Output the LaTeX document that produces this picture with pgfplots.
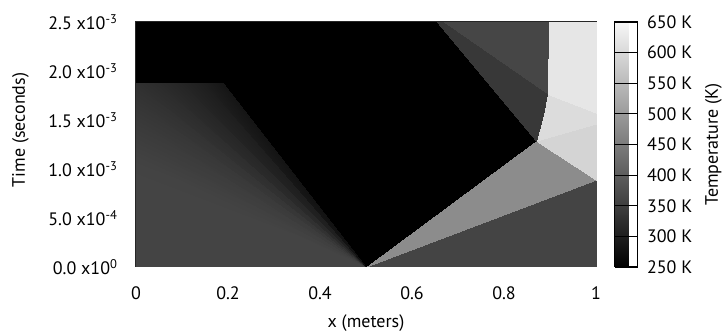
\documentclass[border=0pt]{standalone}
\usepackage{fontspec}
\setmainfont{PT Sans}
\usepackage{pgfplots}
\pgfplotsset{compat=1.18}
\newcommand{\bigf}{\fontsize{18}{21}\selectfont}
\begin{document}
\begin{tikzpicture}
\path[use as bounding box] (-136pt,-64pt) rectangle (591pt,267pt);
\begin{axis}[
  scale only axis, width=460pt, height=245pt,
  at={(0,0)}, anchor=south west,
  xmin=0, xmax=1, ymin=0, ymax=0.0025,
  scaled y ticks=false, scaled x ticks=false,
  tick label style={font=\bigf},
  label style={font=\bigf},
  /pgf/number format/assume math mode=true,
  tick align=inside, major tick length=16pt,
  tick style={black, line width=1pt},
  axis line style={black!85, line width=1pt},
  xtick={0,0.2,0.4,0.6,0.8,1},
  xticklabels={0,0.2,0.4,0.6,0.8,1},
  ytick={0,0.0005,0.001,0.0015,0.002,0.0025},
  yticklabels={0.0 x10\textsuperscript{0},5.0 x10\textsuperscript{-4},1.0 x10\textsuperscript{-3},1.5 x10\textsuperscript{-3},2.0 x10\textsuperscript{-3},2.5 x10\textsuperscript{-3}},
  xticklabel style={yshift=-16pt},
  yticklabel style={xshift=-15pt},
  xlabel={x (meters)},
  ylabel={Time (seconds)},
  xlabel style={at={(axis description cs:0.5,0)}, anchor=base, yshift=-60pt},
  ylabel style={at={(axis description cs:-0.2413,0.559)}, anchor=base},
  colormap={bw}{gray(0cm)=(0); gray(1cm)=(0.97)},
  point meta min=250, point meta max=650,
  colorbar,
  colorbar style={
    at={(parent axis.north east)}, anchor=north west, xshift=10pt,
    width=23pt,
    tick label style={font=\bigf},
    label style={font=\bigf},
    ytick={250,300,350,400,450,500,550,600,650},
    yticklabels={250 K,300 K,350 K,400 K,450 K,500 K,550 K,600 K,650 K},
    major tick length=0pt,
    ymajorgrids, major grid style={black, line width=1.2pt},
    yticklabel style={xshift=6pt},
    ylabel={Temperature (K)},
    ylabel style={at={(axis description cs:4.3,0.5)}, anchor=center, inner sep=0pt},
    axis line style={black, line width=1pt},
  },
]
\addplot[patch, patch type=triangle, shader=interp, point meta=explicit] table[meta=c] {
x y c
0 0 250
1 0 250
1 0.0025 250
0 0 250
1 0.0025 250
0 0.0025 250
0 0 360
0.5 0 360
0 0.0009 360
0.5 0 360
0 0.0009 360
0 0.0011 357
0.5 0 358
0 0.0011 357
0 0.0013 350
0.5 0 355
0 0.0013 350
0 0.0015 343
0.5 0 350
0 0.0015 343
0 0.0017 335
0.5 0 342
0 0.0017 335
0 0.00188 328
0.5 0 331
0 0.00188 328
0.05 0.00188 320
0.5 0 317
0.05 0.00188 320
0.1 0.00188 310
0.5 0 300
0.1 0.00188 310
0.15 0.00188 298
0.5 0 277
0.15 0.00188 298
0.19 0.00188 285
0.5 0 360
1 0 360
1 0.000888 360
0.5 0 476
1 0.000888 476
0.87 0.001286 476
0.87 0.001286 593
1 0.000888 593
1 0.001459 593
0.87 0.001286 606
1 0.001459 606
1 0.001571 606
0.87 0.001286 606
1 0.001571 606
0.885 0.00155 606
0.885 0.00155 606
1 0.001571 606
0.893 0.00177 606
0.893 0.00177 622
1 0.001571 622
1 0.0025 622
0.893 0.00177 622
1 0.0025 622
0.896 0.0025 622
0.668 0.0025 363
0.896 0.0025 363
0.893 0.00177 363
0.655 0.0025 341
0.668 0.0025 341
0.893 0.00177 341
0.655 0.0025 341
0.893 0.00177 341
0.885 0.00155 341
0.655 0.0025 341
0.885 0.00155 341
0.87 0.001286 341
};
\end{axis}
\end{tikzpicture}
\end{document}
